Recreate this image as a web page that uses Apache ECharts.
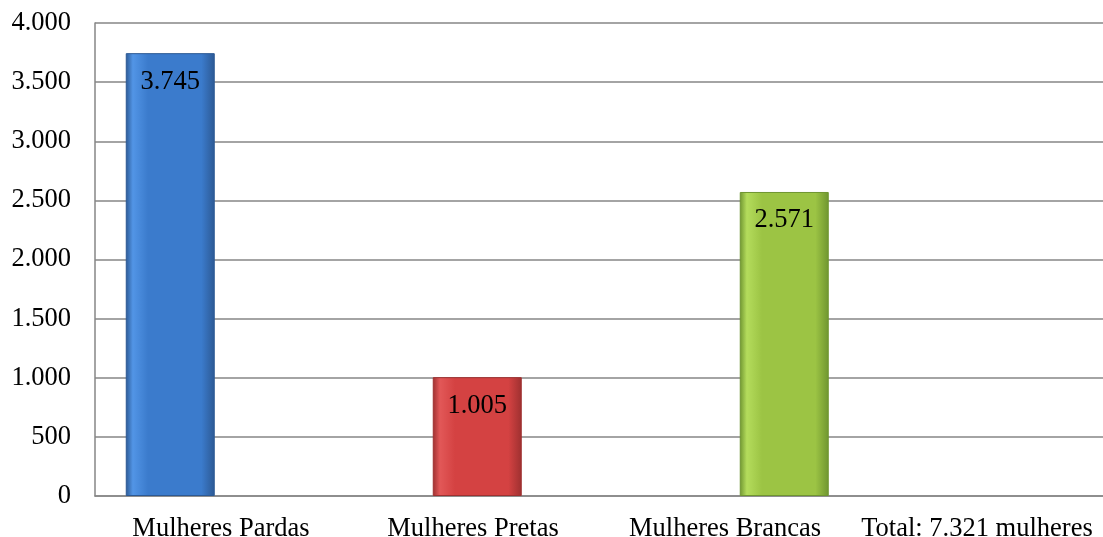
<!DOCTYPE html>
<html>
<head>
<meta charset="utf-8">
<script src="https://cdn.jsdelivr.net/npm/echarts@6/dist/echarts.min.js"></script>
<style>
  html, body { margin: 0; padding: 0; background: #fff; }
  #chart { width: 1103px; height: 537px; }
</style>
</head>
<body>
<div id="chart"></div>
<script>
// categorias do eixo (a última não tem barra)
var categories = ['Mulheres Pardas', 'Mulheres Pretas', 'Mulheres Brancas', 'Total: 7.321 mulheres'];
var barNames = ['Mulheres Pardas', 'Mulheres Pretas', 'Mulheres Brancas'];
var values = [3745, 1005, 2571];
// cores: borda escura, centro, realce
var edgeColors = ['#2c5994', '#9e3030', '#6f9530'];
var mainColors = ['#3b7bcc', '#d44242', '#9cc444'];
var lightColors = ['#5295e6', '#e25858', '#b4dc5c'];
var yTicks = { min: 0, max: 4000, interval: 500 };

var font = 'Liberation Serif, Times New Roman, serif';

function fmt(v) {
  return String(v).replace(/\B(?=(\d{3})+(?!\d))/g, '.');
}

function barColor(i) {
  return {
    type: 'linear', x: 0, y: 0, x2: 1, y2: 0,
    colorStops: [
      { offset: 0, color: edgeColors[i] },
      { offset: 0.08, color: lightColors[i] },
      { offset: 0.25, color: mainColors[i] },
      { offset: 0.85, color: mainColors[i] },
      { offset: 1, color: edgeColors[i] }
    ]
  };
}

var myChart = echarts.init(document.getElementById('chart'));

var option = {
  animation: false,
  backgroundColor: '#fff',
  grid: [
    { left: 95, right: 0, top: 23, bottom: 41, outerBoundsMode: 'none' },
    // grade só para posicionar as barras
    { left: 16.75, width: 921, top: 23, bottom: 41, outerBoundsMode: 'none' }
  ],
  xAxis: [
    {
      type: 'category',
      gridIndex: 0,
      data: categories,
      axisLine: { show: true, lineStyle: { color: '#868686', width: 1.5 } },
      axisTick: { show: false },
      axisLabel: { color: '#000', fontFamily: font, fontSize: 26.5, margin: 20, interval: 0 }
    },
    {
      type: 'category',
      gridIndex: 1,
      data: barNames,
      show: false
    }
  ],
  yAxis: [
    {
      type: 'value',
      gridIndex: 0,
      min: yTicks.min,
      max: yTicks.max,
      interval: yTicks.interval,
      axisLine: { show: true, lineStyle: { color: '#868686', width: 1.5 } },
      axisTick: { show: false },
      splitLine: { lineStyle: { color: '#868686', width: 1.5 } },
      axisLabel: {
        color: '#000', fontFamily: font, fontSize: 26.5, margin: 24,
        formatter: function (v) { return fmt(v); }
      }
    },
    {
      type: 'value',
      gridIndex: 1,
      min: yTicks.min,
      max: yTicks.max,
      show: false,
      splitLine: { show: false }
    }
  ],
  series: [
    {
      type: 'bar',
      xAxisIndex: 1,
      yAxisIndex: 1,
      barWidth: 89,
      data: values.map(function (v, i) {
        return {
          value: v,
          itemStyle: {
            color: barColor(i),
            borderColor: edgeColors[i],
            borderWidth: 1
          }
        };
      }),
      label: {
        show: true,
        position: 'insideTop',
        distance: 15,
        color: '#000',
        fontFamily: font,
        fontSize: 26.5,
        formatter: function (p) { return fmt(p.value); }
      }
    }
  ]
};

myChart.setOption(option);
</script>
</body>
</html>
